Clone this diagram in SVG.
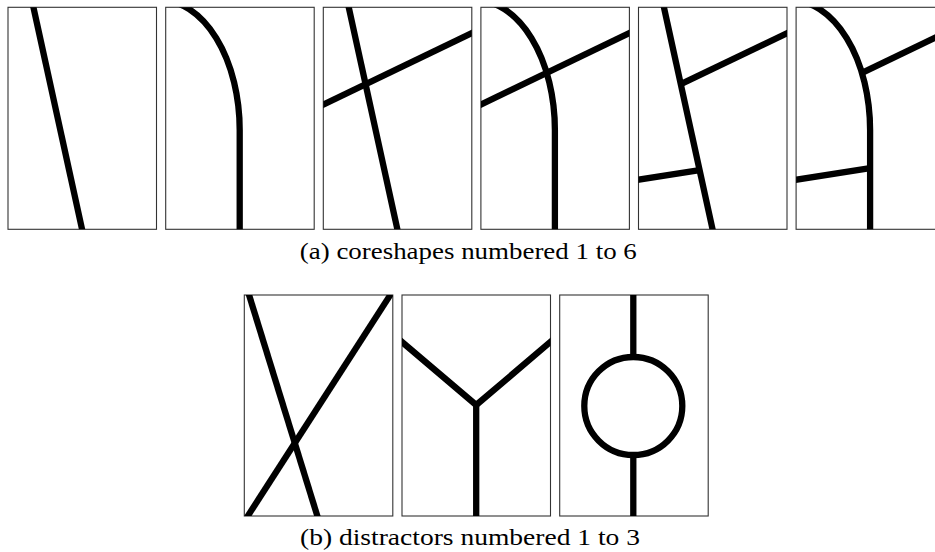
<svg xmlns="http://www.w3.org/2000/svg" xmlns:xlink="http://www.w3.org/1999/xlink" width="935" height="552" viewBox="0 0 935 552">
<style>
.frame{fill:#fff;stroke:#333;stroke-width:1.1}
.s{fill:none;stroke:#000;stroke-width:6.3;stroke-linecap:butt;stroke-linejoin:miter}
.cap{font-family:"Liberation Serif","Times New Roman",serif;font-size:24px;fill:#000}
</style>
<defs>
<clipPath id="ct" clipPathUnits="userSpaceOnUse"><rect x="0" y="0" width="148.5" height="222"/></clipPath>
<clipPath id="cb" clipPathUnits="userSpaceOnUse"><rect x="0" y="0" width="148.5" height="221"/></clipPath>
<path id="lineL" d="M 23.9 -7 L 75.6 229"/>
<path id="curveC" d="M -6 -7.3 A 80 130 0 0 1 74 122.7 L 74 230"/>
<path id="crossX" d="M -10 102 L 160 20.2"/>
</defs>
<rect width="935" height="552" fill="#fff"/>

<g id="core1" transform="translate(8,7.3)">
<rect class="frame" width="148.5" height="222"/>
<g clip-path="url(#ct)"><use xlink:href="#lineL" class="s"/></g>
</g>
<g id="core2" transform="translate(165.7,7.3)">
<rect class="frame" width="148.5" height="222"/>
<g clip-path="url(#ct)"><use xlink:href="#curveC" class="s"/></g>
</g>
<g id="core3" transform="translate(323.3,7.3)">
<rect class="frame" width="148.5" height="222"/>
<g clip-path="url(#ct)"><use xlink:href="#lineL" class="s"/><use xlink:href="#crossX" class="s"/></g>
</g>
<g id="core4" transform="translate(480.9,7.3)">
<rect class="frame" width="148.5" height="222"/>
<g clip-path="url(#ct)"><use xlink:href="#curveC" class="s"/><use xlink:href="#crossX" class="s"/></g>
</g>
<g id="core5" transform="translate(638.5,7.3)">
<rect class="frame" width="148.5" height="222"/>
<g clip-path="url(#ct)"><use xlink:href="#lineL" class="s"/>
<path class="s" d="M 42.3 76.9 L 160 20.3"/>
<path class="s" d="M -5 173.2 L 61.1 162.9"/>
</g>
</g>
<g id="core6" transform="translate(796.1,7.3)">
<rect class="frame" width="148.5" height="222"/>
<g clip-path="url(#ct)"><use xlink:href="#curveC" class="s"/>
<path class="s" d="M 65.9 65.5 L 160 20.2"/>
<path class="s" d="M -5 173.2 L 74 160.9"/>
</g>
</g>

<text class="cap" x="468.3" y="258.7" text-anchor="middle" textLength="337" lengthAdjust="spacingAndGlyphs">(a) coreshapes numbered 1 to 6</text>

<g id="distractor1" transform="translate(244.3,295)">
<rect class="frame" width="148.5" height="221"/>
<g clip-path="url(#cb)">
<path class="s" d="M 2.6 -7 L 75.2 228"/>
<path class="s" d="M -1 228 L 150.5 -7"/>
</g>
</g>
<g id="distractor2" transform="translate(402,295)">
<rect class="frame" width="148.5" height="221"/>
<g clip-path="url(#cb)">
<path class="s" d="M -6 41.9 L 74.2 110 L 154.4 41.9"/>
<path class="s" d="M 74.2 110 L 74.2 230"/>
</g>
</g>
<g id="distractor3" transform="translate(559.7,295)">
<rect class="frame" width="148.5" height="221"/>
<g clip-path="url(#cb)">
<circle class="s" cx="73.6" cy="111" r="49"/>
<path class="s" d="M 73.6 -5 L 73.6 62"/>
<path class="s" d="M 73.6 160 L 73.6 230"/>
</g>
</g>

<text class="cap" x="470" y="544.7" text-anchor="middle" textLength="340" lengthAdjust="spacingAndGlyphs">(b) distractors numbered 1 to 3</text>
</svg>
